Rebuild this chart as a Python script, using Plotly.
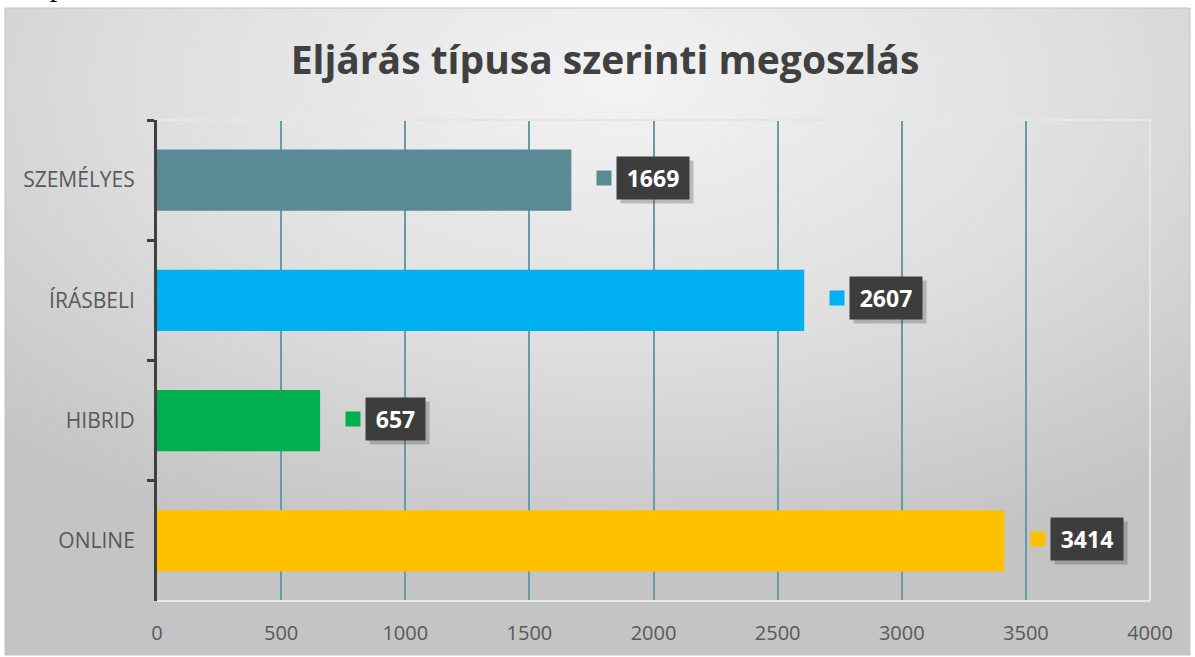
import base64
import plotly.graph_objects as go

categories = ["SZEMÉLYES", "ÍRÁSBELI", "HIBRID", "ONLINE"]
values = [1669, 2607, 657, 3414]
colors = ["#5a8a96", "#00b0f0", "#00b050", "#ffc000"]
x_ticks = [0, 500, 1000, 1500, 2000, 2500, 3000, 3500, 4000]
title_text = "Eljárás típusa szerinti megoszlás"

W, H = 1195, 657
L, R, T, B = 157, 45, 120, 56
pw, ph = W - L - R, H - T - B

def px_x(p):
    return (p - L) / pw

def px_y(p):
    return (H - B - p) / ph

svg = """<svg xmlns='http://www.w3.org/2000/svg' width='1185' height='647' viewBox='0 0 100 100' preserveAspectRatio='none'>
<defs><radialGradient id='g' cx='52%' cy='12%' r='75%' fx='52%' fy='12%'>
<stop offset='0' stop-color='#f3f3f3'/><stop offset='0.55' stop-color='#dedede'/><stop offset='1' stop-color='#c4c4c4'/>
</radialGradient></defs>
<rect x='0' y='0' width='100' height='100' fill='url(#g)'/></svg>"""
src = "data:image/svg+xml;base64," + base64.b64encode(svg.encode()).decode()

fig = go.Figure()
fig.add_trace(go.Bar(
    y=categories, x=values, orientation="h",
    marker=dict(color=colors, line=dict(width=0)),
    hoverinfo="x+y", showlegend=False,
))

ann = []
for c, v, col in zip(categories, values, colors):
    box_w = 13 * len(str(v)) + 6
    # shadow
    ann.append(dict(x=v, y=c, xref="x", yref="y", xanchor="left", yanchor="middle",
                    xshift=49, yshift=-2, text="&nbsp;", showarrow=False,
                    font=dict(family="Open Sans", size=1, color="rgba(0,0,0,0)"),
                    bgcolor="rgba(60,60,60,0.28)", borderpad=0, height=42, width=box_w + 14))
    # label box
    ann.append(dict(x=v, y=c, xref="x", yref="y", xanchor="left", yanchor="middle",
                    xshift=45, yshift=2, text="<b>%d</b>" % v, showarrow=False,
                    font=dict(family="Open Sans", size=23, color="white"),
                    bgcolor="#3d3d3d", borderpad=7, height=28, width=box_w))
    # legend key square
    ann.append(dict(x=v, y=c, xref="x", yref="y", xanchor="center", yanchor="middle",
                    xshift=33, yshift=2, text="&nbsp;", showarrow=False,
                    font=dict(size=1), bgcolor=col, borderpad=0, width=14, height=14))

ann.append(dict(x=0, y=px_y(4), xref="paper", yref="paper", xanchor="left", yanchor="bottom",
                xshift=-L + 26, text="tapasztalt.", showarrow=False,
                font=dict(family="Liberation Serif", size=30, color="black")))

shapes = [
    dict(type="rect", xref="paper", yref="paper", x0=px_x(5), x1=px_x(1190), y0=px_y(655), y1=px_y(8),
         line=dict(color="#c4c4c4", width=1), fillcolor="rgba(0,0,0,0)", layer="below"),
    dict(type="line", xref="paper", yref="paper", x0=0, x1=1, y0=1, y1=1,
         line=dict(color="#e6e6e6", width=2), layer="above"),
    dict(type="line", xref="paper", yref="paper", x0=1, x1=1, y0=0, y1=1,
         line=dict(color="#e6e6e6", width=2), layer="above"),
    dict(type="line", xref="paper", yref="paper", x0=0, x1=1, y0=0, y1=0,
         line=dict(color="#e6e6e6", width=2), layer="above"),
]

fig.update_layout(
    width=W, height=H,
    margin=dict(l=L, r=R, t=T, b=B, autoexpand=False),
    paper_bgcolor="white", plot_bgcolor="rgba(0,0,0,0)",
    bargap=0.49,
    title=dict(text="<b>%s</b>" % title_text, x=605 / W, xanchor="center",
               y=1 - 60 / H, yanchor="middle",
               font=dict(family="Open Sans", size=39, color="#404040")),
    xaxis=dict(range=[0, 4000], tickvals=x_ticks, ticktext=[str(t) for t in x_ticks],
               showgrid=True, gridcolor="#6a9aa4", gridwidth=2, zeroline=False,
               showline=False, ticks="", ticklabelstandoff=18,
               tickfont=dict(family="Open Sans", size=20, color="#595959")),
    yaxis=dict(categoryorder="array", categoryarray=categories, autorange="reversed",
               showline=True, linecolor="#404040", linewidth=3,
               ticks="outside", ticklen=7, tickwidth=3, tickcolor="#404040",
               tickson="boundaries", showgrid=False, zeroline=False,
               ticklabelstandoff=15,
               tickfont=dict(family="Open Sans", size=21, color="#595959")),
    images=[dict(source=src, xref="paper", yref="paper", x=px_x(5), y=px_y(8),
                 sizex=(1190 - 5) / pw, sizey=(655 - 8) / ph, xanchor="left", yanchor="top",
                 sizing="stretch", layer="below")],
    annotations=ann,
    shapes=shapes,
)

fig.write_html("out.html", config={"displayModeBar": False},
               post_script="document.body.style.margin='0';document.body.style.overflow='hidden';")
